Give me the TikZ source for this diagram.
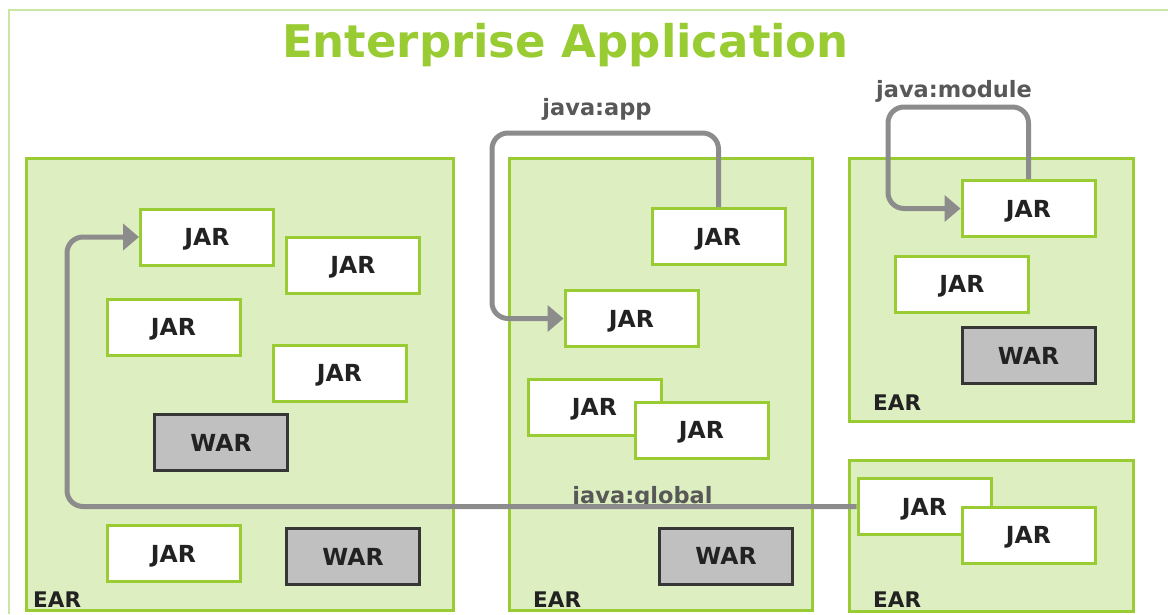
\documentclass[tikz,border=0pt]{standalone}
\usepackage{fontspec}
\setmainfont{DejaVu Sans}
\usetikzlibrary{arrows.meta}
\definecolor{earfill}{HTML}{DDEEC0}
\definecolor{eargreen}{HTML}{99CC33}
\definecolor{framegreen}{HTML}{CAE6A4}
\definecolor{titlegreen}{HTML}{99CC33}
\definecolor{conngray}{HTML}{8C8C8C}
\definecolor{labgray}{HTML}{585858}
\definecolor{warfill}{HTML}{C0C0C0}
\definecolor{warborder}{HTML}{363636}
\definecolor{txt}{HTML}{222222}
\tikzset{
  earbox/.style={draw=eargreen, fill=earfill, line width=3pt},
  jarbox/.style={draw=eargreen, fill=white, line width=3pt, minimum width=133pt, minimum height=56pt,
    inner sep=0pt, text height=17pt, text depth=0pt, font=\bfseries\fontsize{23.5}{24}\selectfont, text=txt},
  warbox/.style={jarbox, draw=warborder, fill=warfill},
  earlabel/.style={anchor=base west, inner sep=0pt, font=\bfseries\fontsize{21.5}{22}\selectfont, text=txt},
  javalabel/.style={anchor=base, inner sep=0pt, font=\bfseries\fontsize{22.5}{23}\selectfont, text=labgray},
  conn/.style={draw=conngray, line width=5pt, rounded corners=16pt},
  arrowconn/.style={conn, -{Triangle[length=16pt,width=26pt]}},
}
\begin{document}
\begin{tikzpicture}[x=1pt,y=-1pt]
\useasboundingbox (0,0) rectangle (1168,614);
% outer frame (extends past the right and bottom edges)
\draw[framegreen, line width=2.5pt] (9,614) -- (9,10) -- (1168,10);
% title
\node[anchor=base, inner sep=0pt, text=titlegreen, font=\bfseries\fontsize{45}{46}\selectfont] (title) at (565.5,57) {Enterprise Application};
% EAR containers
\path[earbox] (26,158) rectangle (453,610);
\path[earbox] (509,158) rectangle (812,610);
\path[earbox] (849,158) rectangle (1133,421);
\path[earbox] (849,460) rectangle (1133,611);
\node[earlabel] (ear1) at (33,607) {EAR};
\node[earlabel] (ear2) at (533,607) {EAR};
\node[earlabel] (ear3) at (873,410) {EAR};
\node[earlabel] (ear4) at (873,607) {EAR};
% EAR 1
\node[jarbox] (j1) at (207,237) {JAR};
\node[jarbox] (j2) at (353,265) {JAR};
\node[jarbox] (j3) at (173.5,327) {JAR};
\node[jarbox] (j4) at (339.5,373) {JAR};
\node[warbox] (w1) at (221,442.5) {WAR};
\node[jarbox] (j5) at (173.5,553.5) {JAR};
\node[warbox] (w2) at (353,556.5) {WAR};
% EAR 2
\node[jarbox] (j6) at (718.5,236.5) {JAR};
\node[jarbox] (j7) at (631.5,318.5) {JAR};
\node[jarbox] (j8) at (594.5,407) {JAR};
\node[jarbox] (j9) at (701.5,430) {JAR};
\node[warbox] (w3) at (726,556) {WAR};
% EAR 3
\node[jarbox] (j10) at (1028.5,208.5) {JAR};
\node[jarbox] (j11) at (962,284) {JAR};
\node[warbox] (w4) at (1028.5,355.5) {WAR};
% EAR 4
\node[jarbox] (j12) at (924.5,506.5) {JAR};
\node[jarbox] (j13) at (1028.5,535) {JAR};
% labels
\node[javalabel] (lapp) at (597,115) {java:app};
\node[javalabel] (lmod) at (954,97) {java:module};
\node[javalabel] (lglob) at (642.5,503) {java:global};
% connectors
\coordinate (gturn) at (67,0);
\coordinate (aturn) at (492,133);
\coordinate (mturn) at (888,107);
\draw[arrowconn] (j12.west) -- (j12.west -| gturn) -- (gturn |- j1.west) -- (j1.west);
\draw[arrowconn] (j6.north) |- (aturn) |- (j7.west);
\draw[arrowconn] (j10.north) |- (mturn) |- (j10.west);
\end{tikzpicture}
\end{document}
